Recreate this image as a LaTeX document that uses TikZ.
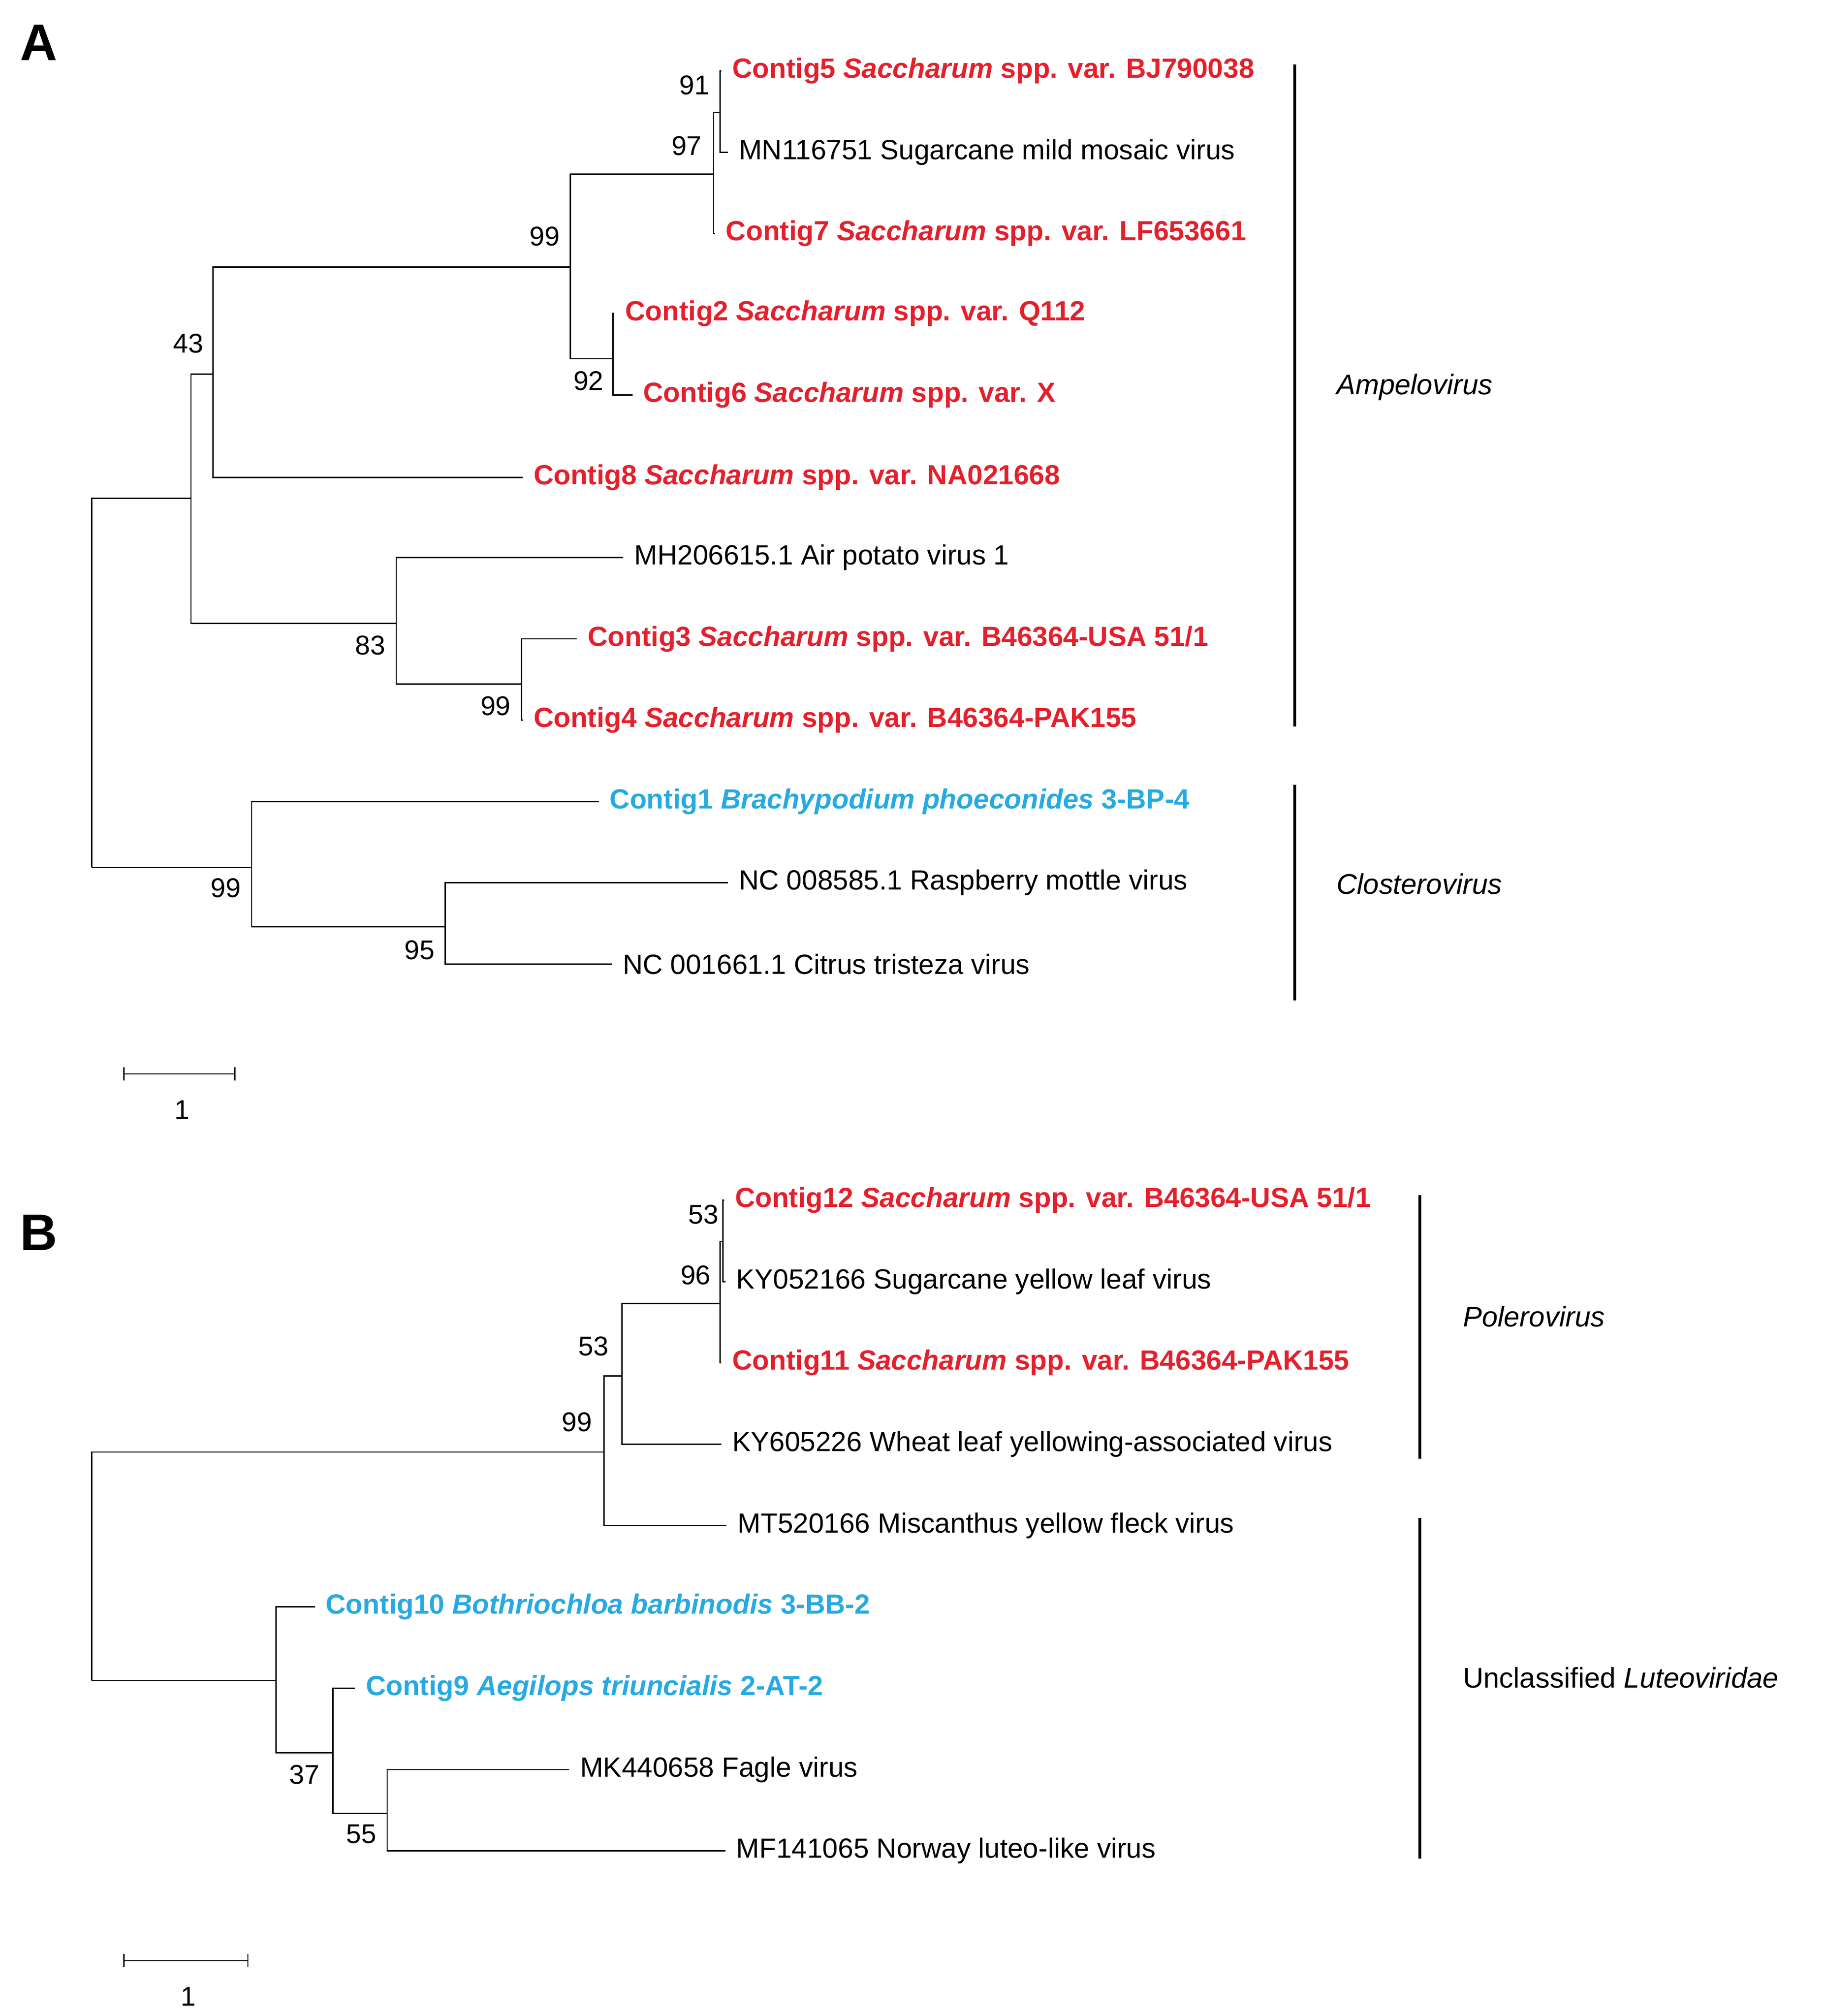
\documentclass[tikz,border=0pt]{standalone}
\usepackage{fontspec}
\setmainfont{Liberation Sans}
\definecolor{cred}{HTML}{E4202C}
\definecolor{cblue}{HTML}{27AAE1}
\begin{document}
\begin{tikzpicture}[x=1pt,y=-1pt,line width=1pt,
 leaf/.style={anchor=west,inner xsep=8pt,inner ysep=0pt,font=\fontsize{21.5}{25}\selectfont},
 rl/.style={leaf,text=cred,font=\fontsize{21.5}{25}\selectfont\bfseries},
 bl/.style={leaf,text=cblue,font=\fontsize{21.5}{25}\selectfont\bfseries},
 bs/.style={font=\fontsize{21}{24}\selectfont,inner sep=0pt},
 bar/.style={line width=2.2pt},
 clade/.style={anchor=west,inner sep=0pt,font=\fontsize{22}{25}\selectfont},
 panel/.style={font=\fontsize{40}{44}\selectfont\bfseries,inner sep=0pt}]
\useasboundingbox (0,0) rectangle (1414,1562);
\node[panel] (pA) at (30,33) {A};
\node[panel] (pB) at (30,955) {B};
% ---- tree A leaves
\node[rl] (a5) at (559,55) {Contig5 \textit{Saccharum} spp. var. BJ790038};
\node[leaf] (amn) at (564,118) {MN116751 Sugarcane mild mosaic virus};
\node[rl] (a7) at (554,181) {Contig7 \textit{Saccharum} spp. var. LF653661};
\node[rl] (a2) at (476,243) {Contig2 \textit{Saccharum} spp. var. Q112};
\node[rl] (a6) at (490,306) {Contig6 \textit{Saccharum} spp. var. X};
\node[rl] (a8) at (405,370) {Contig8 \textit{Saccharum} spp. var. NA021668};
\node[leaf] (amh) at (483,432) {MH206615.1 Air potato virus 1};
\node[rl] (a3) at (447,495) {Contig3 \textit{Saccharum} spp. var. B46364-USA 51/1};
\node[rl] (a4) at (405,558) {Contig4 \textit{Saccharum} spp. var. B46364-PAK155};
\node[bl] (a1) at (464,621) {Contig1 \textit{Brachypodium phoeconides} 3-BP-4};
\node[leaf] (anc1) at (564,684) {NC 008585.1 Raspberry mottle virus};
\node[leaf] (anc2) at (474,747) {NC 001661.1 Citrus tristeza virus};
% internal A
\coordinate (n91) at (558,87);
\coordinate (n97) at (553,135);
\coordinate (n99a) at (442,207);
\coordinate (n92) at (475,278);
\coordinate (n43) at (165,290);
\coordinate (n99b) at (404,530);
\coordinate (n83) at (307,483);
\coordinate (nL) at (148,386);
\coordinate (rA) at (71,672);
\coordinate (n99c) at (195,672);
\coordinate (n95) at (345,718);
\draw (n91) |- (a5.west); \draw (n91) |- (amn.west);
\draw (n97) |- (n91); \draw (n97) |- (a7.west);
\draw (n99a) |- (n97); \draw (n99a) |- (n92);
\draw (n92) |- (a2.west); \draw (n92) |- (a6.west);
\draw (n43) |- (n99a); \draw (n43) |- (a8.west);
\draw (n99b) |- (a3.west); \draw (n99b) |- (a4.west);
\draw (n83) |- (amh.west); \draw (n83) |- (n99b);
\draw (nL) |- (n43); \draw (nL) |- (n83);
\draw (rA) |- (nL); \draw (rA) |- (n99c);
\draw (n99c) |- (a1.west); \draw (n99c) |- (n95);
\draw (n95) |- (anc1.west); \draw (n95) |- (anc2.west);
\node[bs] (b91) at (538,66) {91};
\node[bs] (b97) at (532,113) {97};
\node[bs] (b99a) at (422,183) {99};
\node[bs] (b92) at (456,295) {92};
\node[bs] (b43) at (146,266) {43};
\node[bs] (b83) at (287,500) {83};
\node[bs] (b99b) at (384,547) {99};
\node[bs] (b99c) at (175,688) {99};
\node[bs] (b95) at (325,736) {95};
\coordinate (ba1) at (1003,50); \coordinate (ba2) at (1003,563);
\draw[bar] (ba1) -- (ba2);
\node[clade] (cAmp) at (1035,300) {\textit{Ampelovirus}};
\coordinate (bc1) at (1003,608); \coordinate (bc2) at (1003,775);
\draw[bar] (bc1) -- (bc2);
\node[clade] (cClo) at (1035,685) {\textit{Closterovirus}};
\coordinate (sa1) at (96,832); \coordinate (sa2) at (182,832);
\draw (sa1) -- (sa2);
\draw ([yshift=-5]sa1) -- ([yshift=5]sa1); \draw ([yshift=-5]sa2) -- ([yshift=5]sa2);
\node[bs] (sAl) at (141,860) {1};
% ---- tree B leaves
\node[rl] (b12) at (561,930) {Contig12 \textit{Saccharum} spp. var. B46364-USA 51/1};
\node[leaf] (bky1) at (562,993) {KY052166 Sugarcane yellow leaf virus};
\node[rl] (b11) at (559,1056) {Contig11 \textit{Saccharum} spp. var. B46364-PAK155};
\node[leaf] (bky2) at (559,1119) {KY605226 Wheat leaf yellowing-associated virus};
\node[leaf] (bmt) at (563,1182) {MT520166 Miscanthus yellow fleck virus};
\node[bl] (b10) at (244,1245) {Contig10 \textit{Bothriochloa barbinodis} 3-BB-2};
\node[bl] (b9) at (275,1308) {Contig9 \textit{Aegilops triuncialis} 2-AT-2};
\node[leaf] (bmk) at (441,1371) {MK440658 Fagle virus};
\node[leaf] (bmf) at (562,1434) {MF141065 Norway luteo-like virus};
\coordinate (m53a) at (560,962);
\coordinate (m96) at (558,1010);
\coordinate (m53b) at (482,1066);
\coordinate (m99) at (468,1125);
\coordinate (rB) at (71,1302);
\coordinate (mL) at (214,1302);
\coordinate (m37) at (258,1358);
\coordinate (m55) at (300,1405);
\draw (m53a) |- (b12.west); \draw (m53a) |- (bky1.west);
\draw (m96) |- (m53a); \draw (m96) |- (b11.west);
\draw (m53b) |- (m96); \draw (m53b) |- (bky2.west);
\draw (m99) |- (m53b); \draw (m99) |- (bmt.west);
\draw (rB) |- (m99); \draw (rB) |- (mL);
\draw (mL) |- (b10.west); \draw (mL) |- (m37);
\draw (m37) |- (b9.west); \draw (m37) |- (m55);
\draw (m55) |- (bmk.west); \draw (m55) |- (bmf.west);
\node[bs] (c53a) at (545,941) {53};
\node[bs] (c96) at (539,988) {96};
\node[bs] (c53b) at (460,1043) {53};
\node[bs] (c99) at (447,1102) {99};
\node[bs] (c37) at (236,1375) {37};
\node[bs] (c55) at (280,1421) {55};
\coordinate (bp1) at (1100,926); \coordinate (bp2) at (1100,1130);
\draw[bar] (bp1) -- (bp2);
\node[clade] (cPol) at (1133,1020) {\textit{Polerovirus}};
\coordinate (bu1) at (1100,1176); \coordinate (bu2) at (1100,1440);
\draw[bar] (bu1) -- (bu2);
\node[clade] (cUnc) at (1133,1300) {Unclassified \textit{Luteoviridae}};
\coordinate (sb1) at (96,1519); \coordinate (sb2) at (192,1519);
\draw (sb1) -- (sb2);
\draw ([yshift=-5]sb1) -- ([yshift=5]sb1); \draw ([yshift=-5]sb2) -- ([yshift=5]sb2);
\node[bs] (sBl) at (146,1547) {1};
\end{tikzpicture}
\end{document}
